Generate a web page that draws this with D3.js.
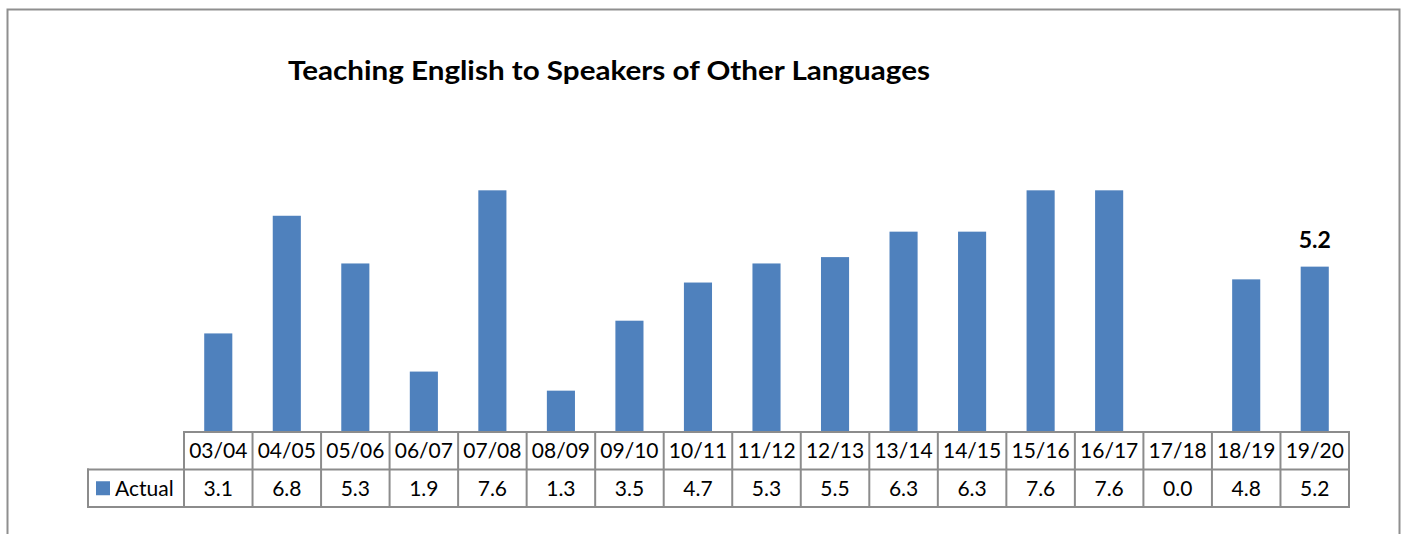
<!DOCTYPE html>
<html>
<head>
<meta charset="utf-8">
<script src="https://cdn.jsdelivr.net/npm/d3@7"></script>
<style>
  html, body { margin: 0; padding: 0; background: #fff; }
  svg { display: block; }
</style>
</head>
<body>
<svg id="chart" width="1408" height="534"></svg>
<script>
// Academic years and the "Actual" series
const categories = ["03/04","04/05","05/06","06/07","07/08","08/09","09/10","10/11","11/12","12/13","13/14","14/15","15/16","16/17","17/18","18/19","19/20"];
const actual = [3.1, 6.8, 5.3, 1.9, 7.6, 1.3, 3.5, 4.7, 5.3, 5.5, 6.3, 6.3, 7.6, 7.6, 0.0, 4.8, 5.2];
const seriesName = "Actual";
const titleText = "Teaching English to Speakers of Other Languages";
const yDomain = [0, 8];

const svg = d3.select("#chart");
const W = 1408, H = 534;
const barColor = "#4F81BD";
const gridColor = "#8c8c8c";
const font = "Lato, 'Open Sans', sans-serif";

// Chart area frame (bottom edge runs past the viewport)
svg.append("path")
  .attr("d", `M7.5,${H + 5} V9.5 H1399.5 V${H + 5}`)
  .attr("fill", "none")
  .attr("stroke", "#8f8f8f")
  .attr("stroke-width", 2);

// Layout
const tableLeft = 88, colLeft = 184, colRight = 1349;
const baseY = 432, rowH = 37.5;

const x = d3.scaleBand().domain(categories).range([colLeft, colRight]).paddingInner(0).paddingOuter(0);
const y = d3.scaleLinear().domain(yDomain).range([baseY, baseY - 8 * 31.8]);

const barW = x.bandwidth() * 0.41;

// Bars
svg.append("g").selectAll("rect")
  .data(categories.map((c, i) => ({ c, v: actual[i] })))
  .join("rect")
  .attr("x", d => x(d.c) + (x.bandwidth() - barW) / 2)
  .attr("y", d => y(d.v))
  .attr("width", barW)
  .attr("height", d => y(0) - y(d.v))
  .attr("fill", barColor);

// Data label on the latest year
const lastIdx = actual.length - 1;
svg.append("text")
  .attr("x", x(categories[lastIdx]) + x.bandwidth() / 2)
  .attr("y", y(actual[lastIdx]) - 19)
  .attr("text-anchor", "middle")
  .attr("font-family", font)
  .attr("font-weight", "bold")
  .attr("font-size", 23)
  .attr("fill", "#000")
  .text(actual[lastIdx].toFixed(1));

// Title
svg.append("text")
  .attr("x", 288)
  .attr("y", 80)
  .attr("font-family", font)
  .attr("font-weight", "bold")
  .attr("font-size", 27.5)
  .attr("textLength", 642)
  .attr("lengthAdjust", "spacingAndGlyphs")
  .attr("fill", "#000")
  .text(titleText);

// Data table
const tbl = svg.append("g");
const row1 = baseY, row2 = baseY + rowH, row3 = baseY + 2 * rowH;
const cellFont = 21;

// Cell text: header row (categories) and value row
tbl.selectAll("text.cat")
  .data(categories)
  .join("text")
  .attr("class", "cat")
  .attr("x", d => x(d) + x.bandwidth() / 2)
  .attr("y", row1 + rowH / 2 + 7.5)
  .attr("text-anchor", "middle")
  .attr("font-family", font)
  .attr("font-size", cellFont)
  .attr("fill", "#000")
  .text(d => d);

tbl.selectAll("text.val")
  .data(categories.map((c, i) => ({ c, v: actual[i] })))
  .join("text")
  .attr("class", "val")
  .attr("x", d => x(d.c) + x.bandwidth() / 2)
  .attr("y", row2 + rowH / 2 + 7.5)
  .attr("text-anchor", "middle")
  .attr("font-family", font)
  .attr("font-size", cellFont)
  .attr("fill", "#000")
  .text(d => d.v.toFixed(1));

// Legend key + series name
tbl.append("rect")
  .attr("x", 96).attr("y", row2 + rowH / 2 - 7)
  .attr("width", 14).attr("height", 14)
  .attr("fill", barColor);
tbl.append("text")
  .attr("x", 115)
  .attr("y", row2 + rowH / 2 + 7.5)
  .attr("font-family", font)
  .attr("font-size", cellFont)
  .attr("fill", "#000")
  .text(seriesName);

// Table grid lines
const lines = [];
lines.push([colLeft, row1, colRight, row1]);
lines.push([tableLeft, row2, colRight, row2]);
lines.push([tableLeft, row3, colRight, row3]);
lines.push([tableLeft, row2, tableLeft, row3]);
categories.forEach(c => lines.push([x(c), row1, x(c), row3]));
lines.push([colRight, row1, colRight, row3]);
tbl.selectAll("line")
  .data(lines)
  .join("line")
  .attr("x1", d => d[0]).attr("y1", d => d[1])
  .attr("x2", d => d[2]).attr("y2", d => d[3])
  .attr("stroke", gridColor)
  .attr("stroke-width", 2)
  .attr("stroke-linecap", "square");
</script>
</body>
</html>
